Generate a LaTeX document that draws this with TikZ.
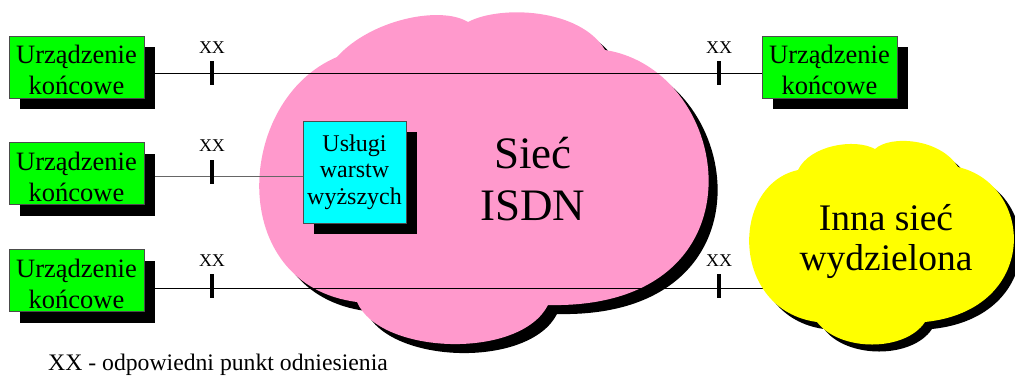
\documentclass[tikz,border=0pt]{standalone}
\usepackage{fontspec}
\setmainfont{Liberation Serif}
\usetikzlibrary{shadows}

\definecolor{termgreen}{RGB}{0,255,0}
\definecolor{svccyan}{RGB}{0,255,255}
\definecolor{isdnpink}{RGB}{255,153,204}
\definecolor{netyellow}{RGB}{255,255,0}

\pgfdeclarelayer{pinklayer}
\pgfdeclarelayer{wirelayer}
\pgfdeclarelayer{yellowlayer}
\pgfsetlayers{pinklayer,wirelayer,yellowlayer,main}

% outline of the ISDN cloud
\newcommand\isdnshape{(337,57) .. controls (370,20) and (440,5) .. (468,22)
  .. controls (500,5) and (580,8) .. (605,50)
  .. controls (735,70) and (770,310) .. (548,305)
  .. controls (520,360) and (380,355) .. (357,302)
  .. controls (225,285) and (235,100) .. (337,57) -- cycle}
% outline of the dedicated-network cloud
\newcommand\othershape{(798,170) .. controls (810,145) and (855,138) .. (875,149)
  .. controls (890,135) and (940,138) .. (958,167)
  .. controls (1035,185) and (1040,310) .. (925,322)
  .. controls (905,352) and (840,352) .. (817,322)
  .. controls (730,310) and (730,185) .. (798,170) -- cycle}

\tikzset{
  terminal/.style={rectangle, fill=termgreen, draw=black!70, line width=0.7pt,
    minimum width=135pt, minimum height=62pt, inner sep=0pt, align=center,
    font=\fontsize{26.5}{31}\selectfont,
    drop shadow={shadow xshift=11pt, shadow yshift=-11pt, fill=black, opacity=1}},
  service/.style={rectangle, fill=svccyan, draw=black!70, line width=0.7pt,
    minimum width=103pt, minimum height=102pt, inner sep=0pt, align=center,
    font=\fontsize{24}{26.5}\selectfont,
    drop shadow={shadow xshift=10.5pt, shadow yshift=-10.5pt, fill=black, opacity=1}},
  refmark/.style={rectangle, fill=black, minimum width=3.5pt, minimum height=24pt,
    inner sep=0pt},
  reflabel/.style={anchor=base, inner sep=0pt, font=\fontsize{18}{20}\selectfont},
  wire/.style={line width=1pt, draw=black},
  cloudtext/.style={align=center, inner sep=0pt}
}

\begin{document}
\begin{tikzpicture}[x=1pt, y=-1pt]
  \useasboundingbox (0,0) rectangle (1015,376);
  \clip (0,0) rectangle (1015,376);

  % wire heights
  \coordinate (row1) at (0,73);
  \coordinate (row2) at (0,176);
  \coordinate (row3) at (0,288);
  \coordinate (yedge) at (775,288);

  % terminals
  \node[terminal] (g1) at (76.5,67)    {\rule{0pt}{25pt}Urządzenie\\końcowe};
  \node[terminal] (g2) at (76.5,173.5) {\rule{0pt}{25pt}Urządzenie\\końcowe};
  \node[terminal] (g3) at (76.5,280.5) {\rule{0pt}{25pt}Urządzenie\\końcowe};
  \node[terminal] (g4) at (829.5,67)   {\rule{0pt}{25pt}Urządzenie\\końcowe};

  % higher-layer services inside the network
  \node[service] (svc) at (354.5,172) {Usługi\\warstw\\wyższych};

  % reference point marks
  \node[refmark] (t1) at (212,73) {};
  \node[refmark] (t2) at (212,171.5) {};
  \node[refmark] (t3) at (212,286) {};
  \node[refmark] (t4) at (719,73) {};
  \node[refmark] (t5) at (719,286) {};
  \node[reflabel] (x1) at (212,53) {XX};
  \node[reflabel] (x2) at (212,151) {XX};
  \node[reflabel] (x3) at (212,266) {XX};
  \node[reflabel] (x4) at (719,53) {XX};
  \node[reflabel] (x5) at (719,266.5) {XX};

  % cloud captions
  \node[cloudtext, font=\fontsize{45}{52}\selectfont] (isdn) at (533,178.75) {Sieć\\ISDN};
  \node[cloudtext, font=\fontsize{37.5}{40}\selectfont] (other) at (886,241.3) {Inna sieć\\wydzielona};

  \node[anchor=base west, inner sep=0pt, font=\fontsize{23.7}{26}\selectfont] (legend)
    at (48,370) {XX - odpowiedni punkt odniesienia};

  % ISDN cloud with its shadow
  \begin{pgfonlayer}{pinklayer}
    \fill[black, shift={(9,9)}] \isdnshape;
    \fill[isdnpink] \isdnshape;
  \end{pgfonlayer}

  % connections
  \begin{pgfonlayer}{wirelayer}
    \draw[wire] (g1.east |- row1) -- (g4.west |- row1);
    \draw[wire, draw=black!60] (g2.east |- row2) -- (svc.west |- row2);
    \draw[wire] (g3.east |- row3) -- (yedge);
  \end{pgfonlayer}

  % dedicated network cloud with its shadow
  \begin{pgfonlayer}{yellowlayer}
    \fill[black, shift={(7,7)}] \othershape;
    \fill[netyellow] \othershape;
  \end{pgfonlayer}
\end{tikzpicture}
\end{document}
